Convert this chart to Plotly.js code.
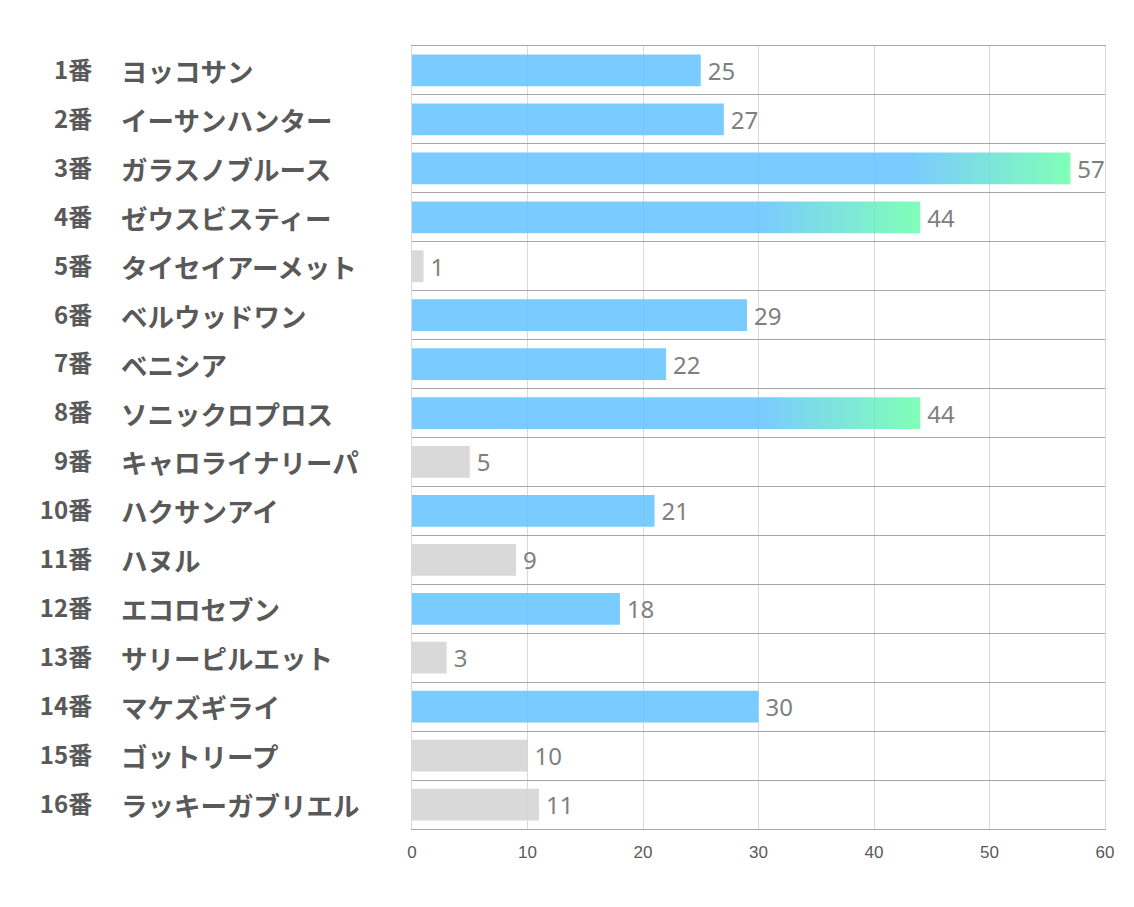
<!DOCTYPE html>
<html>
<head>
<meta charset="utf-8">
<script src="https://cdn.plot.ly/plotly-3.0.1.min.js"></script>
<style>
  html, body { margin: 0; padding: 0; background: #ffffff; }
  #chart { width: 1134px; height: 907px; }
</style>
</head>
<body>
<div id="chart"></div>
<script>
// ---- data ----
const numbers = [1, 2, 3, 4, 5, 6, 7, 8, 9, 10, 11, 12, 13, 14, 15, 16];
const names = ['ヨッコサン', 'イーサンハンター', 'ガラスノブルース', 'ゼウスビスティー', 'タイセイアーメット',
  'ベルウッドワン', 'ベニシア', 'ソニックロプロス', 'キャロライナリーパ', 'ハクサンアイ', 'ハヌル',
  'エコロセブン', 'サリーピルエット', 'マケズギライ', 'ゴットリープ', 'ラッキーガブリエル'];
const values = [25, 27, 57, 44, 1, 29, 22, 44, 5, 21, 9, 18, 3, 30, 10, 11];
// group of each bar: 'hi' = blue, 'lo' = gray, 'top' = blue with green gradient
const groups = ['hi', 'hi', 'top', 'top', 'lo', 'hi', 'hi', 'top', 'lo', 'hi', 'lo', 'hi', 'lo', 'hi', 'lo', 'lo'];
const xTicks = [0, 10, 20, 30, 40, 50, 60];

// ---- styles ----
const groupColor = { hi: 'rgba(99,194,255,0.85)', top: 'rgba(99,194,255,0.85)', lo: 'rgba(210,210,210,0.85)' };
const labels = numbers.map(n => n + '番');

const trace = {
  type: 'bar',
  orientation: 'h',
  y: labels,
  x: values,
  text: values.map(v => '\u2009' + v),
  textposition: 'outside',
  constraintext: 'none',
  cliponaxis: false,
  textfont: { family: 'Noto Sans, sans-serif', size: 24, color: '#7F7F7F' },
  marker: { color: groups.map(g => groupColor[g]), line: { width: 0 } },
  hoverinfo: 'none'
};

const annotations = names.map((nm, i) => ({
  xref: 'paper', yref: 'y',
  x: -0.4228, y: labels[i],
  xanchor: 'left', yanchor: 'middle',
  text: nm, showarrow: false,
  font: { family: 'Noto Sans CJK JP, sans-serif', size: 26.5, color: '#595959', weight: 'bold' }
}));

const layout = {
  width: 1134, height: 907,
  margin: { l: 412, r: 29, t: 46, b: 78 },
  paper_bgcolor: '#ffffff', plot_bgcolor: '#ffffff',
  showlegend: false,
  bargap: 0.35,
  xaxis: {
    range: [0, 60],
    tickvals: xTicks,
    ticktext: xTicks.map(String),
    showgrid: true, gridcolor: '#D9D9D9', gridwidth: 1,
    zeroline: false,
    showline: true, linecolor: '#A6A6A6', linewidth: 1, mirror: true,
    ticks: '',
    tickfont: { family: 'Liberation Sans Narrow, sans-serif', size: 17, color: '#595959' },
    ticklabelstandoff: 8,
    fixedrange: true
  },
  yaxis: {
    type: 'category',
    autorange: 'reversed',
    tickson: 'boundaries',
    showgrid: true, gridcolor: '#A6A6A6', gridwidth: 1,
    showline: true, linecolor: '#D9D9D9', linewidth: 1, mirror: true,
    ticks: '',
    ticklabelstandoff: 314,
    tickfont: { family: 'Noto Sans CJK JP, sans-serif', size: 24, color: '#595959', weight: 'bold' },
    fixedrange: true
  },
  annotations: annotations
};

Plotly.newPlot('chart', [trace], layout, { displayModeBar: false, staticPlot: true }).then(gd => {
  const svg = gd.querySelector('svg.main-svg');
  const NS = 'http://www.w3.org/2000/svg';
  let defs = svg.querySelector('defs');
  if (!defs) { defs = document.createElementNS(NS, 'defs'); svg.insertBefore(defs, svg.firstChild); }
  const paths = gd.querySelectorAll('.barlayer .trace .point path');
  paths.forEach((p, i) => {
    if (groups[i] !== 'top') return;
    const bb = p.getBBox();
    const start = Math.max(0, 1 - 160 / bb.width);
    const g = document.createElementNS(NS, 'linearGradient');
    g.setAttribute('id', 'grad' + i);
    g.setAttribute('x1', '0'); g.setAttribute('y1', '0');
    g.setAttribute('x2', '1'); g.setAttribute('y2', '0');
    const s1 = document.createElementNS(NS, 'stop');
    s1.setAttribute('offset', start.toFixed(3));
    s1.setAttribute('stop-color', 'rgb(99,194,255)');
    const s2 = document.createElementNS(NS, 'stop');
    s2.setAttribute('offset', '1');
    s2.setAttribute('stop-color', 'rgb(105,255,170)');
    g.appendChild(s1); g.appendChild(s2);
    defs.appendChild(g);
    p.style.fill = 'url(#grad' + i + ')';
  });
});
</script>
</body>
</html>
